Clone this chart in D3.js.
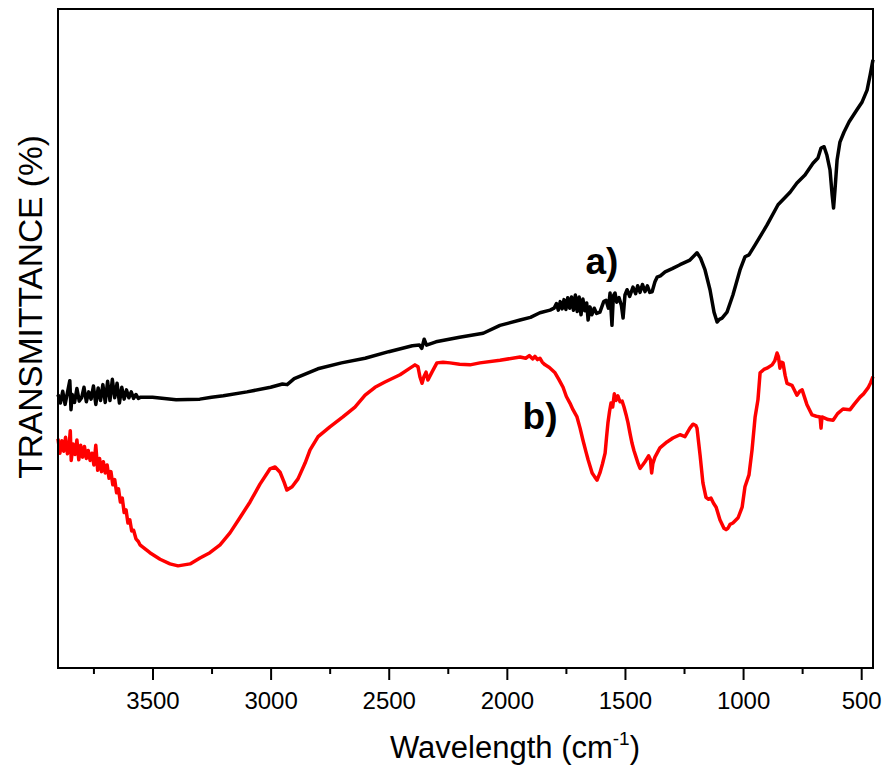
<!DOCTYPE html>
<html lang="en">
<head>
<meta charset="UTF-8">
<title>FTIR transmittance</title>
<script src="https://cdn.jsdelivr.net/npm/d3@7"></script>
<style>
  body { margin: 0; background: #fff; }
  text { font-family: "Liberation Sans", Arial, sans-serif; }
</style>
</head>
<body>
<script>

    // tick values (cm-1)
    var majorTicks = [3500, 3000, 2500, 2000, 1500, 1000, 500];
    var minorTicks = [3750, 3250, 2750, 2250, 1750, 1250, 750];

    // curve a) [wavenumber, transmittance]
    var seriesA = [
        [3900,41.5],[3890,40.2],[3880,42.0],[3870,40.0],[3860,41.8],[3850,43.6],[3845,39.2],[3840,41.5],
        [3830,40.3],[3820,42.4],[3810,40.5],[3800,41.0],[3790,42.6],[3780,40.4],[3770,41.9],[3760,40.8],
        [3750,42.8],[3740,40.0],[3730,42.5],[3720,40.6],[3710,43.0],[3700,40.3],[3690,43.5],[3680,40.6],
        [3670,43.8],[3660,41.0],[3650,43.2],[3640,40.2],[3630,42.6],[3620,40.8],[3610,42.2],[3600,41.0],
        [3590,41.9],[3580,40.9],[3570,41.5],[3560,40.9],[3550,41.1],[3500,41.1],[3450,40.9],[3400,40.7],
        [3300,40.8],[3250,41.1],[3200,41.3],[3100,41.9],[3000,42.6],[2950,43.1],[2930,43.0],[2900,43.9],
        [2800,45.4],[2700,46.3],[2600,47.0],[2500,48.0],[2400,48.9],[2370,49.0],[2360,48.5],[2350,49.9],
        [2340,49.0],[2300,49.5],[2200,50.2],[2100,50.8],[2029,52.0],[1944,52.8],[1900,53.2],[1860,53.9],
        [1817,54.3],[1800,54.6],[1790,55.3],[1782,54.3],[1774,55.6],[1766,54.5],[1758,55.9],[1750,54.4],
        [1742,56.2],[1734,54.6],[1726,56.3],[1718,54.3],[1710,56.6],[1702,54.1],[1694,56.3],[1686,53.6],
        [1678,56.0],[1670,54.2],[1662,55.4],[1656,52.8],[1648,54.8],[1640,53.6],[1630,54.6],[1620,53.8],
        [1606,54.0],[1590,55.6],[1580,55.8],[1570,54.6],[1563,56.9],[1555,52.0],[1549,56.5],[1542,56.9],
        [1535,55.5],[1525,56.2],[1515,55.0],[1508,53.1],[1500,56.6],[1491,57.4],[1480,56.4],[1466,57.8],
        [1455,56.8],[1446,58.0],[1436,57.0],[1426,58.2],[1415,57.1],[1405,58.0],[1395,57.0],[1385,57.1],
        [1373,58.6],[1364,59.3],[1350,59.5],[1330,60.1],[1300,60.6],[1267,61.2],[1225,61.9],[1195,63.0],
        [1180,62.2],[1161,60.4],[1140,57.4],[1123,54.0],[1110,52.5],[1100,52.9],[1089,53.1],[1068,54.0],
        [1043,56.6],[1013,60.4],[992,62.4],[975,62.7],[949,64.2],[899,67.2],[852,70.3],[801,72.2],
        [772,73.6],[738,74.8],[704,76.6],[683,77.4],[670,78.9],[657,79.1],[645,77.8],[632,75.6],
        [623,71.8],[617,69.8],[611,72.5],[602,77.1],[590,79.8],[573,81.3],[551,82.9],[518,84.7],
        [496,85.9],[475,87.7],[462,90.0],[450,92.3]
    ];

    // curve b)
    var seriesB = [
        [3900,34.8],[3892,32.6],[3884,34.5],[3876,32.9],[3868,35.0],[3860,32.5],[3852,34.2],[3848,36.0],
        [3844,31.5],[3836,34.0],[3828,32.4],[3820,34.6],[3812,31.6],[3804,33.8],[3796,32.0],[3788,33.6],
        [3780,31.8],[3772,33.0],[3764,31.5],[3756,32.6],[3748,30.8],[3740,33.8],[3732,30.0],[3724,31.8],
        [3716,29.8],[3708,31.3],[3700,29.6],[3692,30.8],[3684,28.8],[3676,29.8],[3668,27.8],[3660,28.6],
        [3652,26.6],[3644,27.2],[3636,25.2],[3628,25.8],[3620,23.6],[3612,24.0],[3604,22.0],[3596,22.5],
        [3588,20.8],[3580,20.9],[3570,19.6],[3560,19.2],[3553,18.7],[3511,17.5],[3468,16.5],[3426,15.8],
        [3392,15.5],[3341,15.8],[3299,16.7],[3257,17.5],[3214,18.7],[3172,20.5],[3130,22.8],[3087,25.2],
        [3045,27.9],[3003,30.2],[2981,30.5],[2960,29.7],[2943,28.2],[2931,27.0],[2909,27.5],[2884,28.7],
        [2854,31.1],[2833,33.1],[2799,35.1],[2749,36.6],[2694,38.1],[2643,39.6],[2600,41.4],[2558,42.6],
        [2516,43.4],[2452,44.5],[2410,45.5],[2389,46.0],[2376,45.7],[2368,44.2],[2359,43.2],[2351,44.2],
        [2342,44.9],[2334,43.7],[2317,44.9],[2296,46.3],[2270,46.4],[2241,46.3],[2200,46.1],[2156,46.0],
        [2114,46.3],[2029,46.7],[1944,47.2],[1920,47.0],[1905,47.4],[1890,46.9],[1881,47.3],[1870,46.8],
        [1860,47.0],[1850,46.4],[1838,46.0],[1820,45.6],[1796,44.8],[1780,43.8],[1762,42.6],[1748,41.2],
        [1733,40.2],[1720,39.2],[1703,38.1],[1690,36.4],[1678,34.6],[1665,32.8],[1656,31.6],[1639,29.6],
        [1628,29.0],[1618,28.5],[1606,29.6],[1595,31.0],[1584,32.6],[1578,35.0],[1572,37.2],[1565,39.0],
        [1559,40.2],[1552,39.6],[1545,41.6],[1538,40.6],[1530,41.3],[1521,40.4],[1512,40.5],[1504,39.6],
        [1495,38.4],[1487,37.2],[1478,35.5],[1470,34.1],[1462,33.0],[1453,32.0],[1444,31.0],[1436,30.3],
        [1425,30.8],[1415,31.3],[1400,32.2],[1392,31.6],[1387,29.6],[1382,31.0],[1373,32.0],[1352,33.4],
        [1322,34.3],[1297,34.9],[1267,35.4],[1246,35.1],[1225,36.4],[1212,37.0],[1200,36.8],[1195,36.4],
        [1182,32.3],[1170,28.1],[1157,25.9],[1146,25.6],[1136,25.8],[1125,25.0],[1114,24.4],[1098,22.5],
        [1081,21.2],[1072,21.0],[1064,21.2],[1055,21.8],[1043,22.0],[1021,22.8],[1004,24.4],[992,27.5],
        [975,29.3],[962,33.1],[949,38.1],[937,40.7],[928,44.8],[912,45.3],[899,45.5],[877,46.0],
        [866,46.6],[856,47.8],[850,47.2],[844,45.5],[838,46.4],[831,46.3],[822,44.4],[814,43.2],
        [793,42.9],[772,41.4],[760,42.0],[750,42.2],[730,40.0],[708,38.4],[690,38.2],[674,38.1],
        [670,36.4],[666,38.1],[640,37.7],[619,37.6],[600,38.6],[577,39.3],[547,39.2],[530,40.0],
        [505,41.1],[490,41.6],[471,42.5],[460,43.3],[450,44.2]
    ];

    // 画布 (window.top is read-only, so use plot* names)
    var width = 887, height = 771;
    var plotLeft = 58, plotRight = 873, plotTop = 9, plotBottom = 668;

    var svg = d3.select("body").append("svg")
        .attr("width", width)
        .attr("height", height);

    var x = d3.scaleLinear().domain([3900, 450]).range([plotLeft, plotRight]);
    var y = d3.scaleLinear().domain([0, 100]).range([plotBottom, plotTop]);

    var line = d3.line()
        .x(function (d) { return x(d[0]); })
        .y(function (d) { return y(d[1]); });

    svg.append("path")
        .attr("d", line(seriesB))
        .attr("fill", "none")
        .attr("stroke", "#ff0000")
        .attr("stroke-width", 3.5)
        .attr("stroke-linejoin", "round");

    svg.append("path")
        .attr("d", line(seriesA))
        .attr("fill", "none")
        .attr("stroke", "#000")
        .attr("stroke-width", 3.5)
        .attr("stroke-linejoin", "round");

    // 边框
    svg.append("rect")
        .attr("x", plotLeft)
        .attr("y", plotTop)
        .attr("width", plotRight - plotLeft)
        .attr("height", plotBottom - plotTop)
        .attr("fill", "none")
        .attr("stroke", "#000")
        .attr("stroke-width", 2);

    // x axis, major + minor
    var gMajor = svg.append("g")
        .attr("transform", "translate(0," + plotBottom + ")")
        .call(d3.axisBottom(x).tickValues(majorTicks).tickSize(12).tickPadding(12).tickFormat(d3.format("d")));
    gMajor.select(".domain").remove();
    gMajor.selectAll("line").attr("stroke-width", 2);
    gMajor.selectAll("text")
        .attr("font-size", 24)
        .attr("fill", "#000")
        .style("font-family", "'Liberation Sans', Arial, sans-serif");

    var gMinor = svg.append("g")
        .attr("transform", "translate(0," + plotBottom + ")")
        .call(d3.axisBottom(x).tickValues(minorTicks).tickSize(6).tickFormat(""));
    gMinor.select(".domain").remove();
    gMinor.selectAll("line").attr("stroke-width", 2);

    // axis titles
    var xt = svg.append("text")
        .attr("x", 515)
        .attr("y", 758)
        .attr("text-anchor", "middle")
        .attr("font-size", 31);
    xt.append("tspan").text("Wavelength (cm");
    xt.append("tspan").attr("font-size", 19).attr("dy", -13).text("-1");
    xt.append("tspan").attr("dy", 13).text(")");

    svg.append("text")
        .attr("transform", "translate(42,307) rotate(-90)")
        .attr("text-anchor", "middle")
        .attr("font-size", 33.5)
        .text("TRANSMITTANCE (%)");

    // curve labels
    svg.append("text")
        .attr("x", 602).attr("y", 274)
        .attr("text-anchor", "middle")
        .attr("font-size", 37)
        .attr("font-weight", "bold")
        .text("a)");

    svg.append("text")
        .attr("x", 540).attr("y", 429)
        .attr("text-anchor", "middle")
        .attr("font-size", 37)
        .attr("font-weight", "bold")
        .text("b)");

</script>
</body>
</html>
